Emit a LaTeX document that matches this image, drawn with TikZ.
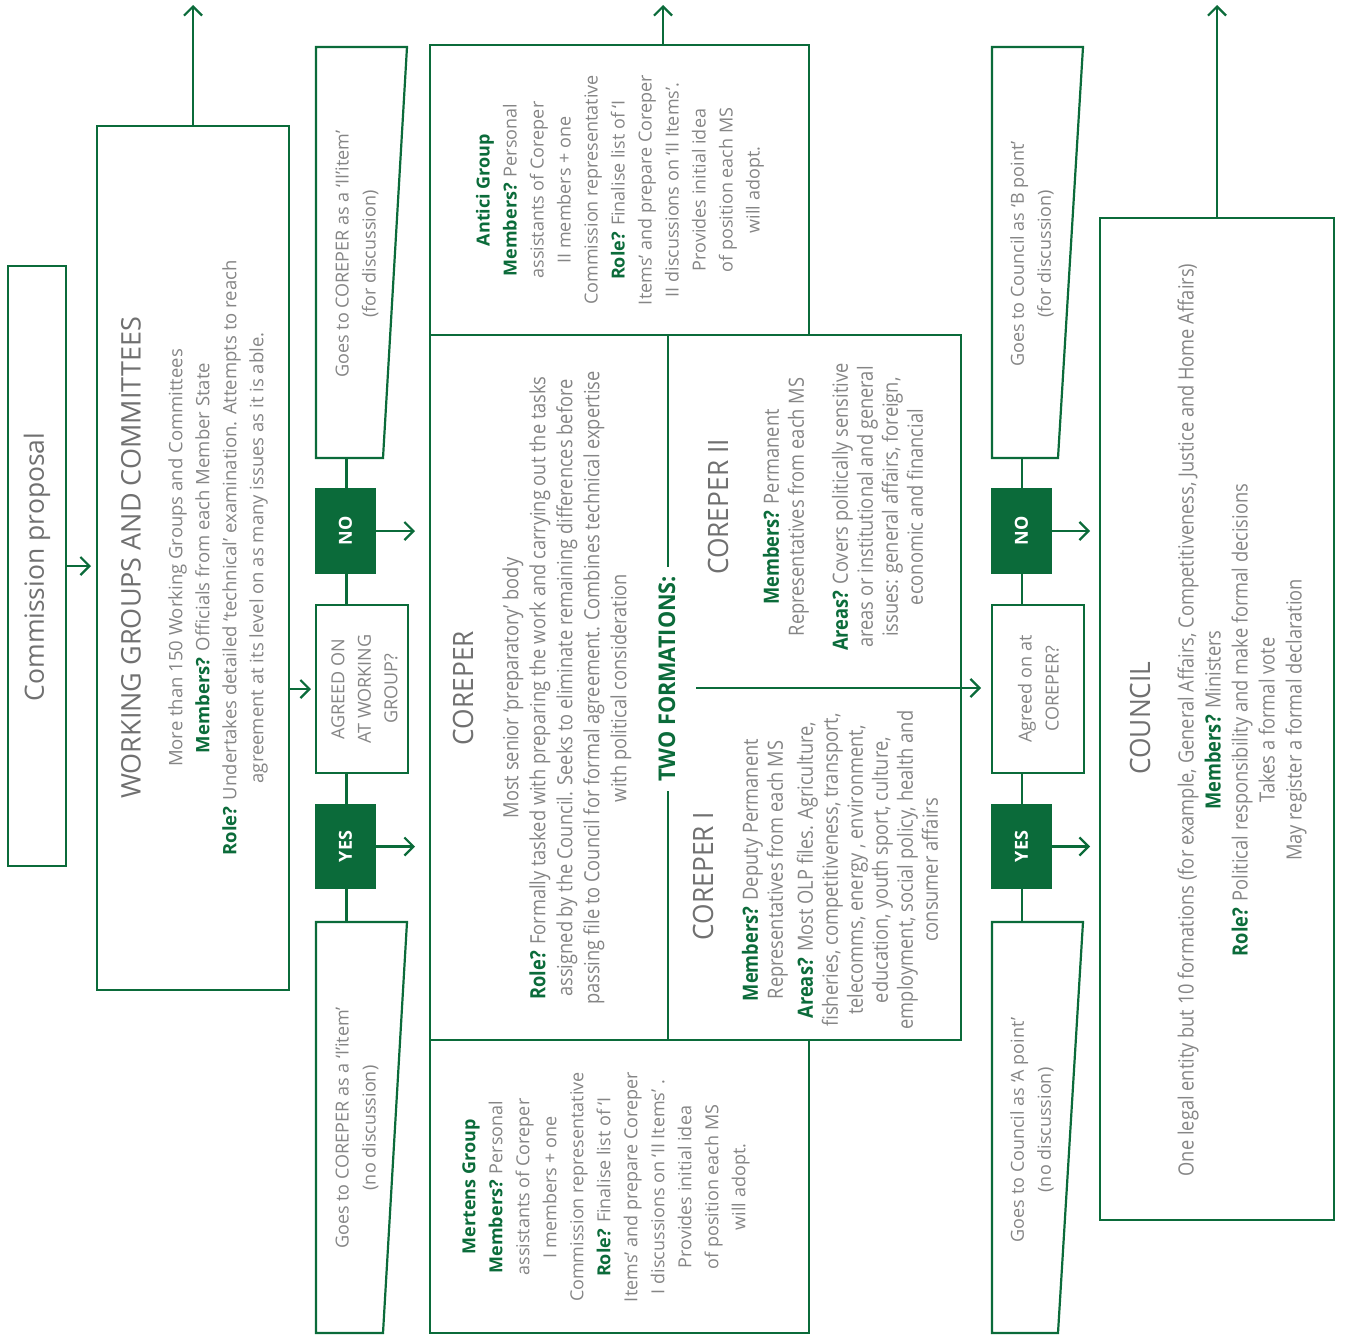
\documentclass[tikz,border=0pt]{standalone}
\usepackage{fontspec}
\usepackage{graphicx}
\setmainfont{Open Sans}
\newfontfamily\condfont{Open Sans}[FakeStretch=0.87]
\newfontfamily\condttl{Open Sans}[FakeStretch=0.94]
\usetikzlibrary{arrows.meta}
\definecolor{eugreen}{HTML}{0B6B3A}
\definecolor{txtgray}{HTML}{858585}
\definecolor{ttlgray}{HTML}{707070}
\newcommand{\gb}[1]{\textbf{\color{eugreen}#1}}
\begin{document}
\begin{tikzpicture}[x=1pt,y=-1pt,
  box/.style={draw=eugreen,line width=2.2pt,inner sep=0pt,outer sep=0pt,line join=miter},
  gbox/.style={fill=eugreen,draw=eugreen,line width=2.2pt,inner sep=0pt,outer sep=0pt,text=white,font=\fontsize{18}{20}\selectfont\bfseries},
  conn/.style={draw=eugreen,line width=2.2pt},
  arr/.style={conn,-{Straight Barb[length=9pt,width=18pt]}},
  rt/.style={rotate=90,align=center,inner sep=0pt,text=txtgray},
  body/.style={rt,font=\fontsize{18}{27}\selectfont},
  cbody/.style={rt,font=\condfont\fontsize{21}{27}\selectfont},
  ttl/.style={rt,text=ttlgray,font=\fontsize{27}{30}\selectfont},
  cttl/.style={rt,text=ttlgray,font=\condttl\fontsize{28}{30}\selectfont}]
\path[use as bounding box] (0,0) rectangle (1355,1336);

% Commission proposal
\node[box,minimum width=58pt,minimum height=600pt] (cp) at (37,566) {};
\node[ttl,font=\fontsize{26.5}{30}\selectfont] (cpt) at (37,567) {Commission proposal};

% Working groups
\node[box,minimum width=192pt,minimum height=864pt] (wg) at (193,558) {};
\node[ttl] (wgt) at (131,558) {WORKING GROUPS AND COMMITTEES};
\node[body,font=\fontsize{18.5}{27}\selectfont] (wgb) at (218,558) {More than 150 Working Groups and Committees\\ \gb{Members?} Officials from each Member State\\ \gb{Role?} Undertakes detailed ‘technical’ examination. Attempts to reach\\ agreement at its level on as many issues as it is able.};
\coordinate (wgup) at (193,5);
\draw[arr] (wg.north) -- (wgup);
\draw[arr,shorten >=6pt] (cp.east) -- (cp.east -| wg.west);

% Column 1
\draw[box] (316,47) -- (407,47) -- (383,458) -- (316,458) -- cycle;
\coordinate (tz1b) at (346.5,458);
\node[body] (tz1t) at (357,254) {Goes to COREPER as a ‘II’item’\\(for discussion)};
\node[gbox,minimum width=59pt,minimum height=84pt] (no1) at (345.5,531) {\rotatebox{90}{NO}};
\node[box,minimum width=92pt,minimum height=168pt] (ag1) at (362,689) {};
\node[body,font=\fontsize{18}{26.5}\selectfont] (ag1t) at (364.5,689) {AGREED ON\\AT WORKING\\GROUP?};
\node[gbox,minimum width=59pt,minimum height=83pt] (yes1) at (345.5,846.5) {\rotatebox{90}{YES}};
\draw[box] (316,922) -- (407,922) -- (383,1333) -- (316,1333) -- cycle;
\coordinate (tz2t) at (346.5,922);
\node[body] (tz2tx) at (357,1128) {Goes to COREPER as a ‘I’item’\\(no discussion)};
\draw[conn] (tz1b) -- (tz1b |- no1.north);
\draw[conn] (tz1b |- no1.south) -- (tz1b |- ag1.north);
\draw[conn] (tz1b |- ag1.south) -- (tz1b |- yes1.north);
\draw[conn] (tz1b |- yes1.south) -- (tz2t);
\coordinate (no1out) at (415,531);
\coordinate (yes1out) at (415,846.5);
\draw[arr] (no1.east) -- (no1out);
\draw[arr] (yes1.east) -- (yes1out);
\draw[arr,shorten >=5pt] (wg.east |- ag1.west) -- (ag1.west);

% Antici
\node[box,minimum width=379pt,minimum height=290pt] (antici) at (619.5,190) {};
\coordinate (antup) at (663,5);
\draw[arr] (antici.north -| antup) -- (antup);
\node[body] (antt) at (620,190) {\gb{Antici Group}\\ \gb{Members?} Personal\\ assistants of Coreper\\ II members + one\\ Commission representative\\ \gb{Role?} Finalise list of ‘I\\ Items’ and prepare Coreper\\ II discussions on ‘II Items’.\\ Provides initial idea\\ of position each MS\\ will adopt.};

% COREPER
\node[box,minimum width=531pt,minimum height=705pt] (corep) at (695.5,687.5) {};
\coordinate (dv1) at (668,335);
\coordinate (dv2) at (668,1040);
\draw[conn] (dv1) -- (dv2);
\node[rt,fill=white,text=eugreen,font=\condttl\bfseries\fontsize{23}{25}\selectfont,inner xsep=9pt,inner ysep=2pt] (twof) at (667,679) {TWO FORMATIONS:};
\node[cttl] (cort) at (463,688) {COREPER};
\node[cbody] (corb) at (567,688) {Most senior ‘preparatory’ body\\ \gb{Role?} Formally tasked with preparing the work and carrying out the tasks\\ assigned by the Council. Seeks to eliminate remaining differences before\\ passing file to Council for formal agreement. Combines technical expertise\\ with political consideration};
\node[cttl] (c2t) at (718,507) {COREPER II};
\node[cbody,font=\condfont\fontsize{21}{25}\selectfont] (c2b) at (843,507) {\gb{Members?} Permanent\\ Representatives from each MS\\[19pt] \gb{Areas?} Covers politically sensitive\\ areas or institutional and general\\ issues: general affairs, foreign,\\ economic and financial};
\node[cttl] (c1t) at (703,876) {COREPER I};
\node[cbody,font=\condfont\fontsize{21}{25}\selectfont] (c1b) at (840,870) {\gb{Members?} Deputy Permanent\\ Representatives from each MS\\[5pt] \gb{Areas?} Most OLP files. Agriculture,\\ fisheries, competitiveness, transport,\\ telecomms, energy , environment,\\ education, youth sport, culture,\\ employment, social policy, health and\\ consumer affairs};

% Mertens
\node[box,minimum width=379pt,minimum height=293pt] (mertens) at (619.5,1186.5) {};
\node[body] (mertt) at (606,1187) {\gb{Mertens Group}\\ \gb{Members?} Personal\\ assistants of Coreper\\ I members + one\\ Commission representative\\ \gb{Role?} Finalise list of ‘I\\ Items’ and prepare Coreper\\ I discussions on ‘II Items’ .\\ Provides initial idea\\ of position each MS\\ will adopt.};

% Column 2
\draw[box] (992,47) -- (1083,47) -- (1058,458) -- (992,458) -- cycle;
\coordinate (tz3b) at (1022,458);
\node[body] (tz3t) at (1032,254) {Goes to Council as ‘B point’\\(for discussion)};
\node[gbox,minimum width=59pt,minimum height=84pt] (no2) at (1021.5,531) {\rotatebox{90}{NO}};
\node[box,minimum width=92pt,minimum height=168pt] (ag2) at (1038,689) {};
\node[body] (ag2t) at (1038.5,689) {Agreed on at\\COREPER?};
\node[gbox,minimum width=59pt,minimum height=83pt] (yes2) at (1021.5,846.5) {\rotatebox{90}{YES}};
\draw[box] (992,922) -- (1083,922) -- (1058,1333) -- (992,1333) -- cycle;
\coordinate (tz4t) at (1022,922);
\node[body] (tz4tx) at (1032,1130) {Goes to Council as ‘A point’\\(no discussion)};
\draw[conn] (tz3b) -- (tz3b |- no2.north);
\draw[conn] (tz3b |- no2.south) -- (tz3b |- ag2.north);
\draw[conn] (tz3b |- ag2.south) -- (tz3b |- yes2.north);
\draw[conn] (tz3b |- yes2.south) -- (tz4t);
\coordinate (no2out) at (1090,531);
\coordinate (yes2out) at (1090,846.5);
\draw[arr] (no2.east) -- (no2out);
\draw[arr] (yes2.east) -- (yes2out);
\coordinate (hs) at (696,688);
\draw[arr,shorten >=11pt] (hs) -- (hs -| ag2.west);

% Council
\node[box,minimum width=234pt,minimum height=1002pt] (council) at (1217,719) {};
\coordinate (cup) at (1217,5);
\draw[arr] (council.north) -- (cup);
\node[cttl] (cot) at (1140,718) {COUNCIL};
\node[cbody] (cob) at (1242,720) {One legal entity but 10 formations (for example, General Affairs, Competitiveness, Justice and Home Affairs)\\ \gb{Members?} Ministers\\ \gb{Role?} Political responsibility and make formal decisions\\ Takes a formal vote\\ May register a formal declaration};
\end{tikzpicture}
\end{document}
